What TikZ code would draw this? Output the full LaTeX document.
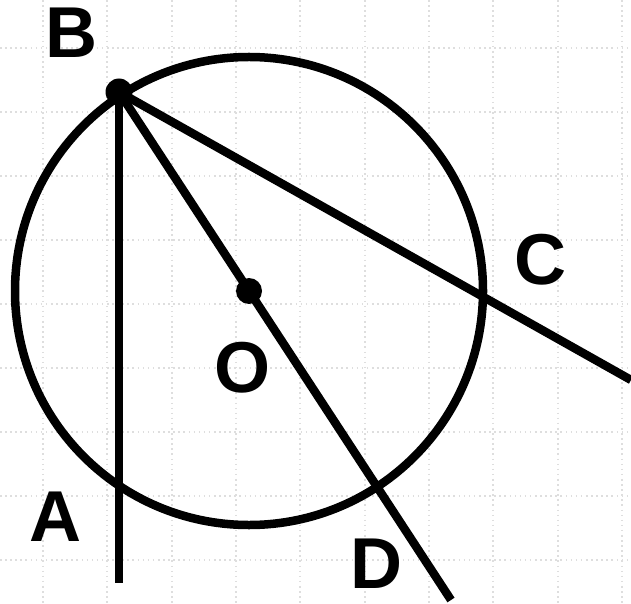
\documentclass[tikz,border=0pt]{standalone}
\usepackage{fontspec}
\setmainfont{Liberation Sans}
\usetikzlibrary{calc}

\begin{document}
\begin{tikzpicture}[
    x=0.02cm, y=-0.02cm,
    geo/.style={line width=0.17cm},
    dotpt/.style={circle, fill=black, inner sep=0pt, minimum size=#1},
    lbl/.style={font=\fontsize{41}{41}\selectfont\bfseries, inner sep=0pt},
    gridline/.style={black!13, dotted, line width=0.9pt},
]
    \useasboundingbox (0,0) rectangle (631,604);

    % faint squared paper
    \foreach \gy in {48,112,176,240,304,368,432,496,560}
        \draw[gridline] (0,\gy) -- (631,\gy);
    \foreach \gx in {43,107,172,236,300,365,429,493,558,622}
        \draw[gridline] (\gx,0) -- (\gx,604);

    \coordinate (O) at (249,291);
    \coordinate (B) at (119,92);
    \coordinate (Aend) at (119,583);
    \coordinate (Dend) at (451,600);
    \coordinate (Cend) at (631,380);

    \draw[geo] (O) circle[radius=234];

    \draw[geo] (B) -- (Aend);
    \draw[geo] (B) -- (Dend);
    \draw[geo] (B) -- (Cend);

    \node[dotpt=0.54cm] (Bdot) at (B) {};
    \node[dotpt=0.52cm] (Odot) at (O) {};

    \node[lbl] (labB) at (72,33) {B};
    \node[lbl] (labC) at (540,260) {C};
    \node[lbl] (labO) at (243,368) {O};
    \node[lbl] (labA) at (56,517) {A};
    \node[lbl] (labD) at (377,564) {D};
\end{tikzpicture}
\end{document}
